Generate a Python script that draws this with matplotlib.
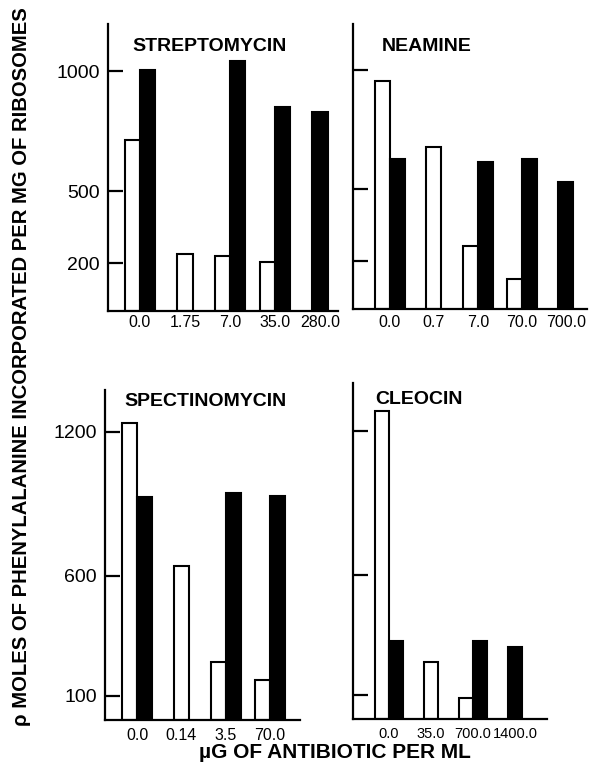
import matplotlib.pyplot as plt
import numpy as np

# values (open = white bars, solid = black bars)
strep_labels = ["0.0", "1.75", "7.0", "35.0", "280.0"]
strep_open = [712, 237, 229, 204, None]
strep_solid = [1005, None, 1042, 850, 829]

neamine_labels = ["0.0", "0.7", "7.0", "70.0", "700.0"]
neamine_open = [954, 675, 263, 125, None]
neamine_solid = [625, None, 612, 625, 529]

spect_labels = ["0.0", "0.14", "3.5", "70.0"]
spect_open = [1237, 642, 242, 167]
spect_solid = [929, None, 946, 933]

cleo_labels = ["0.0", "35.0", "700.0", "1400.0"]
cleo_open = [1283, 237, 87, None]
cleo_solid = [325, None, 325, 300]

top_ticks = [200, 500, 1000]
bottom_ticks = [100, 600, 1200]

W, H = 592, 768
fig = plt.figure(figsize=(W / 100, H / 100), dpi=100)
FONT = "Liberation Sans"


def make_axes(left, right, top, bottom):
    return fig.add_axes([left / W, 1 - bottom / H, (right - left) / W, (bottom - top) / H])


def draw_panel(ax, labels, opn, sol, ticks, ylim, xlim, title, title_xy, show_labels, pad, xfs):
    w = 0.34
    for i in range(len(labels)):
        o, s = opn[i], sol[i]
        if o is not None and s is not None:
            ax.bar(i - w / 2, o, w, color="white", edgecolor="black", linewidth=1.5)
            ax.bar(i + w / 2, s, w, color="black", edgecolor="black", linewidth=1.5)
        elif o is not None:
            ax.bar(i, o, w, color="white", edgecolor="black", linewidth=1.5)
        else:
            ax.bar(i, s, w, color="black", edgecolor="black", linewidth=1.5)
    ax.set_xlim(*xlim)
    ax.set_ylim(*ylim)
    for sp in ["top", "right"]:
        ax.spines[sp].set_visible(False)
    for sp in ["left", "bottom"]:
        ax.spines[sp].set_linewidth(1.6)
    ax.set_xticks(range(len(labels)))
    ax.set_xticklabels(labels, fontfamily=FONT, fontsize=xfs)
    ax.tick_params(axis="x", length=0, pad=pad)
    ax.set_yticks(ticks)
    ax.tick_params(axis="y", direction="in", length=11, width=1.6, pad=6)
    if show_labels:
        ax.set_yticklabels([str(t) for t in ticks], fontfamily=FONT, fontsize=14)
    else:
        ax.set_yticklabels([])
    ax.patch.set_visible(False)
    fig.text(title_xy[0] / W, 1 - title_xy[1] / H, title, fontfamily=FONT,
             fontweight="bold", fontsize=14, ha="left", va="baseline")


ax1 = make_axes(108, 338, 24, 311)
draw_panel(ax1, strep_labels, strep_open, strep_solid, top_ticks, (0, 1196),
           (-0.71, 4.4), "STREPTOMYCIN", (132, 51), True, 3, 11.5)
ax2 = make_axes(353, 587, 24, 309)
draw_panel(ax2, neamine_labels, neamine_open, neamine_solid, top_ticks, (0, 1190),
           (-0.84, 4.48), "NEAMINE", (382, 51), False, 4, 11.5)
ax3 = make_axes(105, 300, 390, 720)
draw_panel(ax3, spect_labels, spect_open, spect_solid, bottom_ticks, (0, 1375),
           (-0.73, 3.68), "SPECTINOMYCIN", (124, 406), True, 6, 11.5)
ax4 = make_axes(353, 547, 383, 719)
draw_panel(ax4, cleo_labels, cleo_open, cleo_solid, bottom_ticks, (0, 1400),
           (-0.86, 3.76), "CLEOCIN", (375, 404), False, 6, 10.5)

fig.text(22 / W, 1 - 367 / H, "ρ MOLES OF PHENYLALANINE INCORPORATED PER MG OF RIBOSOMES",
         rotation=90, ha="center", va="center", fontfamily=FONT, fontweight="bold", fontsize=14.6)
fig.text(335 / W, 1 - 753 / H, "µG OF ANTIBIOTIC PER ML", ha="center", va="center",
         fontfamily=FONT, fontweight="bold", fontsize=15)

fig.savefig("out.png", dpi=100)
